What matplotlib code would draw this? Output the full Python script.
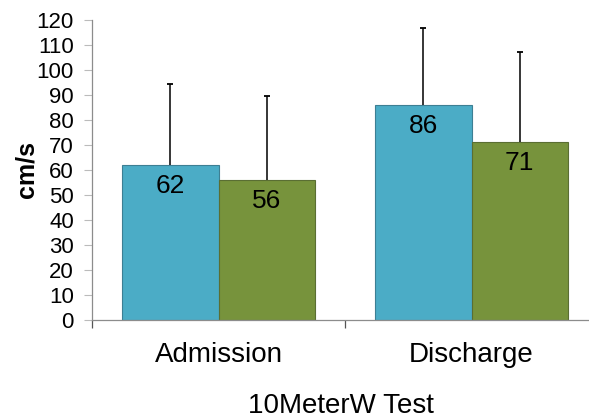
import numpy as np
import matplotlib
matplotlib.use("Agg")
from matplotlib import pyplot as plt

plt.rcParams['font.family'] = ['Liberation Sans', 'DejaVu Sans']

# walking speed, 10 meter walk test
categories = ["Admission", "Discharge"]
blue_vals = [62, 86]
green_vals = [56, 71]
blue_err = [32.5, 30.8]
green_err = [33.7, 36.0]

fig = plt.figure(figsize=(5.89, 4.19), dpi=100)
ax = fig.add_axes([92 / 589, 99 / 419, 497 / 589, 300 / 419])

x = np.arange(len(categories))
w = 0.38
axis_grey = "#8c8c8c"

b1 = ax.bar(x - w / 2, blue_vals, w, color="#4BACC6", edgecolor="#3d7f93", linewidth=0.8, zorder=2)
b2 = ax.bar(x + w / 2, green_vals, w, color="#77933C", edgecolor="#5a6e33", linewidth=0.8, zorder=2)

# upper error bars only, cap drawn on top end
for xs, vals, errs in ((x - w / 2, blue_vals, blue_err), (x + w / 2, green_vals, green_err)):
    tops = np.array(vals) + np.array(errs)
    ax.vlines(xs, vals, tops, color="black", linewidth=1.1, zorder=3)
    ax.plot(xs, tops, linestyle="none", marker="_", markersize=5,
            markeredgewidth=1.3, color="black", zorder=3)

for bars, vals in ((b1, blue_vals), (b2, green_vals)):
    for rect, v in zip(bars, vals):
        ax.annotate(str(v), (rect.get_x() + rect.get_width() / 2, v),
                    xytext=(0, -15), textcoords="offset points",
                    ha="center", va="center", fontsize=19, zorder=4)

ax.set_ylim(0, 120)
ax.set_yticks(np.arange(0, 121, 10))
ax.set_xlim(-0.5, 1.5 - 9 / 253)
ax.set_xticks(x)
ax.set_xticklabels(categories)
ax.set_xticks([-0.5, 0.5], minor=True)

for side in ("top", "right"):
    ax.spines[side].set_visible(False)
for side in ("left", "bottom"):
    ax.spines[side].set_color(axis_grey)
    ax.spines[side].set_linewidth(0.9)

ax.tick_params(axis="y", direction="out", length=6, width=0.8, color="#bbbbbb",
               labelsize=16, pad=7)
ax.tick_params(axis="x", which="major", length=0, labelsize=20, pad=16)
ax.tick_params(axis="x", which="minor", direction="out", length=6, width=0.9, color="#555555")

ax.set_ylabel("cm/s", fontsize=18, fontweight="bold", labelpad=-1)
ax.set_xlabel("10MeterW Test", fontsize=20, labelpad=18)

fig.savefig("out.png", dpi=100)
